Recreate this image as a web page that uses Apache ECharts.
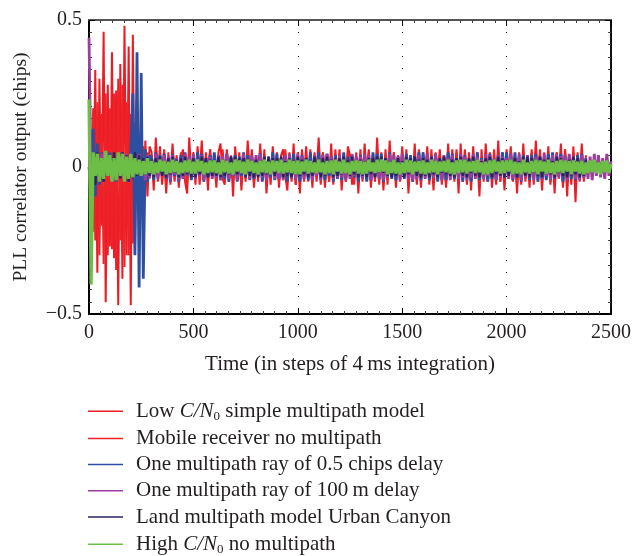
<!DOCTYPE html>
<html><head><meta charset="utf-8">
<script src="https://cdn.jsdelivr.net/npm/echarts@6/dist/echarts.min.js"></script>
<style>html,body{margin:0;padding:0;background:#fff}#c{width:634px;height:556px}</style>
</head><body><div id="c"></div>
<script>
// Samples are read every 10 integration steps (time = index * timeStep)
const timeStep = 10;

const seriesNames = [
  'Low C/N0 simple multipath model',
  'Mobile receiver no multipath',
  'One multipath ray of 0.5 chips delay',
  'One multipath ray of 100\u2009m delay',
  'Land multipath model Urban Canyon',
  'High C/N0 no multipath'
];

const lowCN0Multipath = [
  0, .12, -.22, .33, -.36, .3, -.2, .46, -.46, .28,
  -.27, .39, -.31, .26, -.47, .35, -.38, .48, -.3, .41,
  -.47, .45, -.29, .22, -.16, .13, -.11, .09, -.1, .07,
  .05, -.08, .1, -.03, .07, -.06, .02, -.09, .05, -.04,
  .08, -.02, .04, -.07, .03, .06, -.05, -.09, .1, -.03,
  .04, -.06, .07, -.02, .09, -.05, .03, -.08, .06, -.04,
  .02, -.07, .05, .08, -.04, -.06, .06, -.03, .04, -.1,
  .07, -.03, .05, -.08, .04, -.05, .09, -.02, .06, -.07,
  .03, -.05, .08, -.04, .06, -.09, .02, -.06, .07, -.03,
  .05, -.07, .04, .06, -.03, -.08, .05, -.04, .08, -.06,
  .04, -.09, .06, -.03, .07, -.05, .03, -.07, .05, -.02,
  .1, -.04, .05, -.07, .03, -.05, .08, -.06, .04, -.03,
  .06, -.08, .03, -.05, .07, .04, -.06, -.03, .05, -.09,
  .04, -.05, .08, -.03, .06, -.07, .02, -.05, .1, -.04,
  .05, -.08, .03, -.06, .09, -.04, .05, -.07, .03, -.05,
  .07, -.03, .06, -.09, .04, -.05, .08, -.06, .03, -.07,
  .05, -.04, .07, -.06, .03, -.08, .05, -.03, .06, -.05,
  .04, -.07, .08, -.04, .06, -.03, .05, -.09, .08, -.05,
  .03, -.06, .05, -.08, .07, -.04, .03, -.1, .06, -.05,
  .08, -.04, .05, -.07, .03, -.06, .09, -.05, .04, -.08,
  .06, -.03, .07, -.05, .04, -.09, .05, -.06, .08, -.04,
  .03, -.07, .06, -.04, .09, -.05, .04, -.08, .05, -.03,
  .07, -.06, .04, -.09, .05, -.03, .08, -.07, .06, -.1,
  .04, -.06, .07, -.12, .05, -.04, .08, -.05, .04
];

const mobileNoMultipath = [
  0, -.15, .2, -.25, .22, -.3, .18, -.33, .25, -.3,
  .2, -.28, .25, -.35, .3, -.25, .28, -.34, .22, -.3,
  .18, -.26, .15, -.12, .1, -.08, .07, -.06, .05, -.04,
  .04, -.03, .05, -.05, .02, -.04, .06, -.02, .03, -.06,
  .03, -.05, .02, -.03, .05, -.04, .03, -.06, .04, -.02,
  .05, -.03, .04, -.06, .02, -.04, .05, -.03, .06, -.04,
  .03, -.05, .04, -.02, .06, -.03, .04, -.05, .02, -.04,
  .05, -.04, .02, -.06, .04, -.03, .05, -.02, .03, -.05,
  .04, -.02, .06, -.04, .03, -.05, .02, -.04, .05, -.03,
  .02, -.05, .04, -.03, .06, -.02, .04, -.05, .03, -.06,
  .05, -.03, .02, -.05, .04, -.04, .06, -.03, .02, -.05,
  .03, -.06, .05, -.02, .04, -.05, .03, -.04, .06, -.03,
  .04, -.02, .03, -.05, .05, -.03, .02, -.06, .04, -.04,
  .06, -.04, .02, -.03, .05, -.05, .04, -.02, .03, -.06,
  .03, -.05, .06, -.04, .02, -.03, .05, -.05, .04, -.02,
  .05, -.03, .04, -.06, .03, -.04, .02, -.05, .06, -.03,
  .02, -.04, .05, -.03, .06, -.05, .03, -.02, .04, -.06,
  .04, -.06, .03, -.04, .02, -.05, .06, -.03, .05, -.04,
  .06, -.03, .04, -.05, .03, -.02, .05, -.06, .02, -.04,
  .03, -.05, .02, -.04, .06, -.03, .04, -.05, .05, -.02,
  .05, -.04, .06, -.02, .03, -.06, .02, -.04, .04, -.05,
  .02, -.03, .05, -.06, .04, -.02, .06, -.05, .03, -.04,
  .04, -.05, .03, -.03, .05, -.04, .02, -.06, .06, -.03,
  .03, -.04, .05, -.02, .04, -.05, .03, -.04, .03
];

const rayHalfChip = [
  0, -.09, .13, -.1, .08, -.06, .05, -.05, .04, -.03,
  .05, -.04, .03, -.05, .04, -.03, .05, -.04, .03, -.05,
  .04, .25, -.3, .39, -.41, .32, -.38, .06, -.05, .04,
  .03, -.045, .05, -.03, .04, -.025, .045, -.04, .03, -.05,
  .045, -.03, .025, -.05, .04, -.035, .05, -.03, .035, -.045,
  .03, -.04, .05, -.025, .045, -.05, .03, -.035, .04, -.03,
  .05, -.035, .03, -.045, .025, -.04, .045, -.05, .035, -.03,
  .04, -.05, .035, -.03, .05, -.025, .04, -.045, .03, -.04,
  .025, -.03, .045, -.05, .035, -.04, .03, -.035, .05, -.045,
  .045, -.04, .03, -.035, .04, -.05, .025, -.03, .045, -.035,
  .035, -.05, .04, -.03, .03, -.045, .05, -.04, .025, -.03,
  .05, -.035, .025, -.045, .045, -.03, .035, -.05, .04, -.04,
  .03, -.045, .05, -.04, .035, -.025, .04, -.035, .03, -.05,
  .04, -.03, .035, -.05, .025, -.045, .05, -.03, .045, -.04,
  .045, -.05, .03, -.035, .05, -.04, .025, -.045, .035, -.03,
  .025, -.04, .045, -.03, .04, -.05, .035, -.025, .05, -.045,
  .05, -.03, .035, -.045, .03, -.035, .045, -.05, .025, -.04,
  .035, -.045, .05, -.025, .045, -.04, .03, -.035, .04, -.05,
  .04, -.035, .025, -.05, .035, -.03, .05, -.045, .03, -.04,
  .03, -.05, .045, -.04, .025, -.045, .04, -.03, .05, -.035,
  .05, -.025, .035, -.045, .05, -.035, .03, -.05, .04, -.03,
  .025, -.045, .04, -.03, .045, -.05, .035, -.04, .03, -.045,
  .045, -.035, .05, -.04, .03, -.025, .045, -.05, .035, -.03,
  .035, -.04, .03, -.045, .04, -.03, .045, -.035, .03
];

const ray100m = [
  .44, -.03, .04, -.035, .03, -.02, .045, -.04, .025, -.03,
  .035, -.045, .02, -.03, .04, -.035, .025, -.04, .045, -.02,
  .03, -.04, .035, -.025, .045, -.03, .02, -.045, .04, -.035,
  .025, -.03, .045, -.04, .03, -.02, .04, -.035, .035, -.045,
  .04, -.025, .03, -.045, .02, -.04, .045, -.03, .035, -.035,
  .045, -.04, .025, -.03, .04, -.045, .03, -.02, .035, -.04,
  .02, -.035, .04, -.045, .035, -.025, .045, -.04, .03, -.03,
  .035, -.045, .03, -.02, .045, -.035, .025, -.04, .04, -.03,
  .04, -.03, .045, -.035, .025, -.045, .035, -.025, .03, -.04,
  .03, -.04, .02, -.045, .04, -.03, .045, -.035, .025, -.045,
  .045, -.025, .035, -.04, .03, -.035, .02, -.045, .04, -.03,
  .025, -.045, .04, -.03, .045, -.02, .035, -.04, .03, -.035,
  .04, -.035, .03, -.045, .025, -.04, .045, -.03, .035, -.025,
  .035, -.04, .045, -.025, .04, -.045, .03, -.035, .02, -.04,
  .03, -.045, .025, -.035, .045, -.03, .04, -.02, .035, -.045,
  .045, -.03, .035, -.04, .02, -.045, .03, -.04, .04, -.025,
  .025, -.04, .045, -.03, .035, -.035, .045, -.025, .03, -.045,
  .04, -.025, .03, -.045, .04, -.03, .025, -.04, .045, -.035,
  .035, -.045, .02, -.035, .045, -.04, .035, -.03, .025, -.04,
  .045, -.03, .04, -.025, .03, -.045, .04, -.035, .035, -.03,
  .03, -.04, .045, -.04, .025, -.03, .045, -.045, .03, -.035,
  .04, -.035, .025, -.045, .035, -.025, .03, -.04, .045, -.03,
  .025, -.045, .04, -.03, .045, -.035, .035, -.02, .04, -.045,
  .045, -.03, .035, -.04, .03, -.045, .04, -.035, .025, -.04,
  .035, -.045, .045, -.03, .04, -.035, .03, -.04, .045, -.03,
  .02
];

const urbanCanyon = [
  0, -.05, .04, -.06, .05, -.04, .03, -.05, .04, -.03,
  .04, -.03, .05, -.04, .03, -.04, .05, -.03, .04, -.05,
  .03, -.04, .05, -.03, .04, -.03, .03, -.025, .035, -.03,
  .025, -.035, .03, -.02, .035, -.03, .02, -.035, .03, -.025,
  .035, -.02, .025, -.035, .03, -.03, .035, -.025, .02, -.035,
  .03, -.035, .02, -.025, .035, -.02, .03, -.035, .025, -.03,
  .02, -.03, .035, -.035, .025, -.03, .02, -.025, .035, -.02,
  .035, -.025, .03, -.02, .03, -.035, .025, -.03, .02, -.035,
  .025, -.035, .02, -.03, .035, -.025, .035, -.02, .03, -.03,
  .03, -.02, .035, -.035, .02, -.03, .03, -.035, .025, -.025,
  .035, -.03, .025, -.025, .03, -.035, .02, -.03, .035, -.02,
  .02, -.035, .03, -.03, .035, -.02, .025, -.035, .03, -.03,
  .03, -.025, .035, -.02, .025, -.03, .035, -.025, .02, -.035,
  .025, -.03, .02, -.035, .03, -.025, .03, -.035, .035, -.02,
  .035, -.02, .03, -.03, .02, -.035, .025, -.03, .03, -.025,
  .02, -.035, .035, -.025, .03, -.02, .035, -.03, .025, -.035,
  .03, -.03, .025, -.035, .035, -.025, .02, -.035, .03, -.02,
  .035, -.025, .02, -.03, .025, -.035, .03, -.02, .035, -.03,
  .025, -.035, .03, -.02, .035, -.03, .025, -.035, .02, -.025,
  .03, -.02, .035, -.035, .02, -.025, .035, -.03, .03, -.035,
  .02, -.03, .025, -.025, .03, -.035, .02, -.025, .035, -.03,
  .035, -.035, .03, -.02, .025, -.03, .035, -.035, .025, -.02,
  .03, -.025, .02, -.035, .035, -.02, .03, -.03, .02, -.035,
  .025, -.03, .035, -.025, .03, -.035, .02, -.03, .025
];

const highCN0 = [
  .23, -.4, .05, -.03, .045, -.05, .03, -.04, .055, -.03,
  .04, -.05, .03, -.045, .05, -.03, .045, -.05, .035, -.04,
  .045, -.035, .03, -.025, .025, -.03, .02, -.025, .03, -.02,
  .02, -.025, .015, -.02, .025, -.015, .02, -.025, .018, -.02,
  .025, -.018, .02, -.025, .015, -.02, .022, -.018, .025, -.022,
  .018, -.022, .025, -.015, .02, -.025, .015, -.02, .022, -.018,
  .022, -.02, .015, -.025, .025, -.018, .02, -.022, .015, -.025,
  .025, -.015, .022, -.02, .018, -.025, .025, -.015, .02, -.02,
  .015, -.025, .02, -.018, .025, -.02, .018, -.025, .022, -.015,
  .02, -.02, .025, -.022, .015, -.018, .025, -.02, .02, -.025,
  .022, -.025, .018, -.015, .025, -.022, .02, -.018, .015, -.02,
  .025, -.018, .015, -.025, .02, -.02, .022, -.025, .025, -.015,
  .018, -.022, .025, -.02, .015, -.025, .02, -.015, .022, -.022,
  .02, -.025, .018, -.022, .025, -.015, .015, -.02, .025, -.018,
  .025, -.015, .022, -.025, .018, -.02, .025, -.022, .015, -.025,
  .015, -.02, .025, -.018, .022, -.025, .018, -.015, .02, -.022,
  .022, -.025, .015, -.02, .025, -.018, .02, -.025, .018, -.015,
  .02, -.018, .025, -.022, .015, -.025, .022, -.02, .025, -.018,
  .025, -.022, .018, -.015, .02, -.02, .025, -.018, .015, -.025,
  .018, -.025, .022, -.02, .025, -.015, .018, -.022, .022, -.02,
  .022, -.015, .025, -.025, .018, -.022, .015, -.025, .025, -.018,
  .015, -.022, .02, -.018, .025, -.025, .022, -.015, .018, -.022,
  .025, -.02, .015, -.025, .02, -.018, .025, -.02, .022, -.015,
  .02, -.025, .022, -.015, .018, -.022, .02, -.025, .015, -.02,
  .022, -.018, .025, -.02, .015, -.025, .02, -.018, .022, -.02,
  .01
];

const seriesValues = [lowCN0Multipath, mobileNoMultipath, rayHalfChip, ray100m, urbanCanyon, highCN0];
const seriesColors = ['#ED1C24', '#EE2229', '#2D4FA0', '#9C3E9C', '#26265E', '#6CBE45'];
const seriesWidths = [2, 2, 2.8, 2.8, 2.2, 3.2];

const serif = '"Liberation Serif", "DejaVu Serif", serif';
const ink = '#231f20';

const chart = echarts.init(document.getElementById('c'), null, {renderer: 'canvas'});

function axisBase(extra) {
  return Object.assign({
    type: 'value',
    axisTick: {show: true, inside: true, length: 6, lineStyle: {color: '#000', width: 1}},
    minorSplitLine: {show: false}
  }, extra);
}

chart.setOption({
  animation: false,
  backgroundColor: '#fff',
  grid: {left: 89, right: 21, top: 20, bottom: 242, containLabel: false},
  xAxis: [
    axisBase({
      min: 0, max: 2500, interval: 500, position: 'bottom',
      minorTick: {show: true, splitNumber: 9, length: 3, lineStyle: {color: '#444'}},
      axisLine: {show: true, onZero: false, lineStyle: {color: '#000', width: 2}},
      splitLine: {show: true, lineStyle: {color: '#000', width: 1, type: [1, 11]}},
      axisLabel: {fontFamily: serif, fontSize: 20, color: ink, margin: 9,
        formatter: function (v) { return String(v); }},
      name: 'Time (in steps of 4\u2009ms integration)',
      nameLocation: 'middle', nameGap: 40,
      nameTextStyle: {fontFamily: serif, fontSize: 21, color: ink}
    }),
    axisBase({
      min: 0, max: 2500, interval: 500, position: 'top',
      minorTick: {show: true, splitNumber: 9, length: 3, lineStyle: {color: '#444'}},
      axisLine: {show: true, onZero: false, lineStyle: {color: '#555', width: 2}},
      splitLine: {show: false},
      axisLabel: {show: false}
    })
  ],
  yAxis: [
    axisBase({
      min: -0.5, max: 0.5, interval: 0.5, position: 'left',
      minorTick: {show: true, splitNumber: 12, length: 3, lineStyle: {color: '#444'}},
      axisLine: {show: true, onZero: false, lineStyle: {color: '#000', width: 2}},
      splitLine: {show: false},
      axisLabel: {
        fontFamily: serif, fontSize: 20, color: ink, margin: 7,
        formatter: function (v) { return v < 0 ? '\u2212' + Math.abs(v) : String(v); }
      },
      name: 'PLL correlator output (chips)',
      nameLocation: 'middle', nameGap: 58, nameRotate: 90,
      nameTextStyle: {fontFamily: serif, fontSize: 19.5, color: ink}
    }),
    axisBase({
      min: -0.5, max: 0.5, interval: 0.5, position: 'right',
      minorTick: {show: true, splitNumber: 12, length: 3, lineStyle: {color: '#444'}},
      axisLine: {show: true, onZero: false, lineStyle: {color: '#111', width: 2}},
      splitLine: {show: false},
      axisLabel: {show: false}
    })
  ],
  legend: {
    orient: 'vertical', left: 88, top: 399.7, height: 160, padding: 0,
    icon: 'rect', itemWidth: 35, itemHeight: 1.5, itemGap: 5.2,
    data: seriesNames,
    textStyle: {
      fontFamily: serif, fontSize: 21, color: ink, padding: [0, 0, 0, 8],
      rich: {
        n: {fontFamily: serif, fontSize: 21, color: ink, lineHeight: 22},
        i: {fontFamily: serif, fontSize: 21, color: ink, fontStyle: 'italic', lineHeight: 22},
        s: {fontFamily: serif, fontSize: 13, color: ink, lineHeight: 12, padding: [10, 0, 0, 0]}
      }
    },
    formatter: function (name) {
      return name.split('C/N0').map(function (p) { return p ? '{n|' + p + '}' : ''; }).join('{i|C/N}{s|0}');
    }
  },
  series: seriesNames.map(function (name, k) {
    return {
      name: name, type: 'line', xAxisIndex: 0, yAxisIndex: 0,
      showSymbol: false, symbol: 'none',
      color: seriesColors[k],
      lineStyle: {width: seriesWidths[k], color: seriesColors[k], join: 'bevel'},
      emphasis: {disabled: true},
      data: seriesValues[k].map(function (v, i) { return [i * timeStep, v]; })
    };
  })
});
</script>
</body></html>
